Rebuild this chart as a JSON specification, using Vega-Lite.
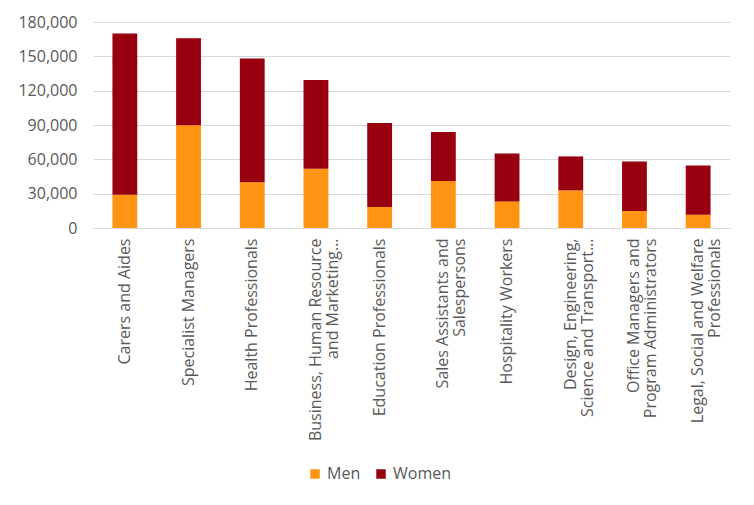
{
  "$schema": "https://vega.github.io/schema/vega-lite/v6.json",
  "width": 637,
  "height": 206,
  "autosize": {"type": "none"},
  "padding": {"left": 93, "top": 22, "right": 24, "bottom": 277},
  "background": "white",
  "data": {
    "values": [
      {"occupation": "Carers and Aides", "order": 1, "sex": "Men", "count": 29000},
      {"occupation": "Carers and Aides", "order": 1, "sex": "Women", "count": 141000},
      {"occupation": "Specialist Managers", "order": 2, "sex": "Men", "count": 89700},
      {"occupation": "Specialist Managers", "order": 2, "sex": "Women", "count": 76000},
      {"occupation": "Health Professionals", "order": 3, "sex": "Men", "count": 39900},
      {"occupation": "Health Professionals", "order": 3, "sex": "Women", "count": 108300},
      {"occupation": "Business, Human Resource\nand Marketing…", "order": 4, "sex": "Men", "count": 51800},
      {"occupation": "Business, Human Resource\nand Marketing…", "order": 4, "sex": "Women", "count": 77500},
      {"occupation": "Education Professionals", "order": 5, "sex": "Men", "count": 18400},
      {"occupation": "Education Professionals", "order": 5, "sex": "Women", "count": 73400},
      {"occupation": "Sales Assistants and\nSalespersons", "order": 6, "sex": "Men", "count": 41100},
      {"occupation": "Sales Assistants and\nSalespersons", "order": 6, "sex": "Women", "count": 42800},
      {"occupation": "Hospitality Workers", "order": 7, "sex": "Men", "count": 23250},
      {"occupation": "Hospitality Workers", "order": 7, "sex": "Women", "count": 41950},
      {"occupation": "Design, Engineering,\nScience and Transport…", "order": 8, "sex": "Men", "count": 32850},
      {"occupation": "Design, Engineering,\nScience and Transport…", "order": 8, "sex": "Women", "count": 29700},
      {"occupation": "Office Managers and\nProgram Administrators", "order": 9, "sex": "Men", "count": 14850},
      {"occupation": "Office Managers and\nProgram Administrators", "order": 9, "sex": "Women", "count": 43350},
      {"occupation": "Legal, Social and Welfare\nProfessionals", "order": 10, "sex": "Men", "count": 11600},
      {"occupation": "Legal, Social and Welfare\nProfessionals", "order": 10, "sex": "Women", "count": 43100}
    ]
  },
  "mark": {"type": "bar"},
  "encoding": {
    "x": {
      "field": "occupation",
      "type": "nominal",
      "sort": {"field": "order", "op": "min"},
      "scale": {"paddingInner": 0.61, "paddingOuter": 0.305},
      "axis": {
        "title": null,
        "labelAngle": -90,
        "labelAlign": "right",
        "labelBaseline": "middle",
        "labelExpr": "split(datum.label, '\\n')",
        "labelLineHeight": 17,
        "labelFont": "Open Sans",
        "labelFontSize": 16,
        "labelColor": "#595959",
        "labelPadding": 10,
        "labelLimit": 300,
        "ticks": false,
        "domainColor": "#d9d9d9",
        "domainWidth": 1
      }
    },
    "y": {
      "field": "count",
      "type": "quantitative",
      "stack": "zero",
      "scale": {"domain": [0, 180000], "nice": false},
      "axis": {
        "title": null,
        "values": [0, 30000, 60000, 90000, 120000, 150000, 180000],
        "format": ",d",
        "labelFont": "Open Sans",
        "labelFontSize": 16,
        "labelColor": "#595959",
        "labelPadding": 16,
        "ticks": false,
        "domain": false,
        "grid": true,
        "gridColor": "#d9d9d9",
        "gridWidth": 1
      }
    },
    "color": {
      "field": "sex",
      "type": "nominal",
      "scale": {"domain": ["Men", "Women"], "range": ["#FF9412", "#980010"]},
      "legend": {
        "title": null,
        "orient": "none",
        "direction": "horizontal",
        "legendX": 214,
        "legendY": 444,
        "symbolType": "square",
        "symbolSize": 90,
        "symbolStrokeWidth": 0,
        "labelFont": "Open Sans",
        "labelFontSize": 16,
        "labelColor": "#595959",
        "labelOffset": 4,
        "columnPadding": 12
      }
    },
    "order": {"field": "sex", "sort": "ascending"}
  },
  "config": {
    "view": {"stroke": null}
  }
}
